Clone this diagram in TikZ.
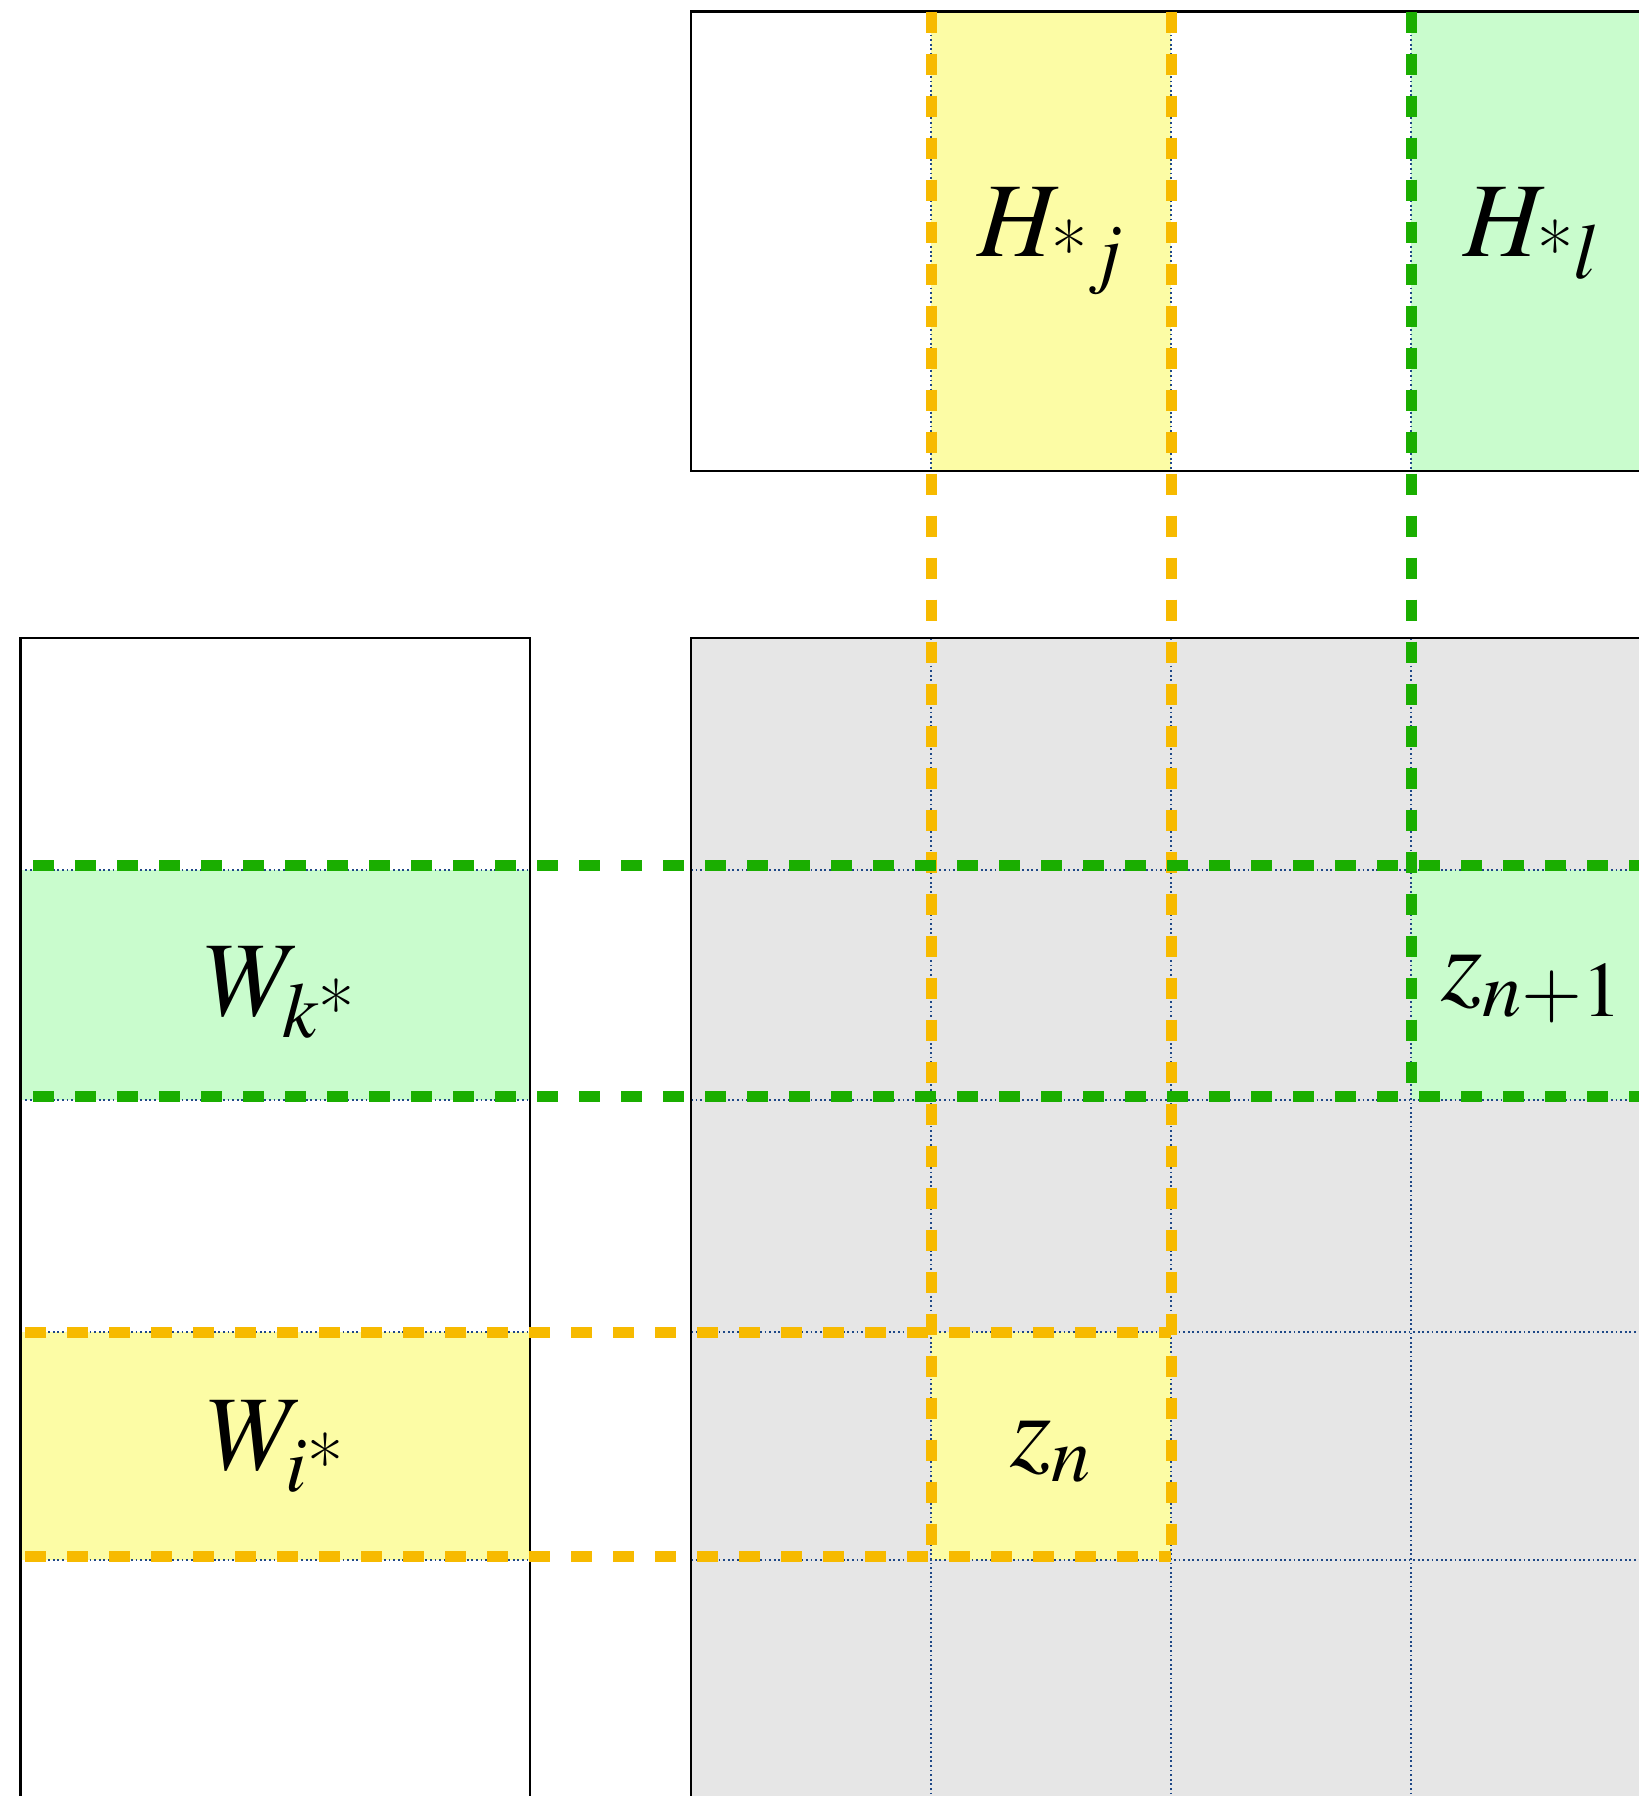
\documentclass[tikz,border=0pt]{standalone}
\usepackage{amsmath}
\usepackage{mathptmx}
\usepackage{xcolor}
\usepackage{tikz}

\definecolor{cellgrey}{RGB}{230,230,230}
\definecolor{hiyellow}{RGB}{252,252,165}
\definecolor{higreen}{RGB}{201,252,205}
\definecolor{dashorange}{RGB}{247,186,0}
\definecolor{dashgreen}{RGB}{26,174,0}
\definecolor{gridblue}{RGB}{30,72,135}
\newcommand{\tast}{\text{*}}

\begin{document}
\begin{tikzpicture}[
  x=0.5pt,y=-0.5pt,
  frame/.style={draw=black,line width=1.2pt},
  gridline/.style={draw=gridblue,line width=0.8pt,dash pattern=on 0.9pt off 1.4pt},
  ydash/.style={draw=dashorange,line width=5.5pt,dash pattern=on 10.5pt off 10.5pt},
  gdash/.style={draw=dashgreen,line width=5.5pt,dash pattern=on 10.5pt off 10.5pt},
  lbl/.style={inner sep=0pt,anchor=base,font=\fontsize{53}{60}\selectfont}
]
\clip (0,0) rectangle (1639,1796);
\fill[white] (0,0) rectangle (1639,1796);
% product matrix
\fill[cellgrey] (691,638) rectangle (1660,1820);
% selected columns of H and rows of W
\fill[hiyellow] (931,11.5) rectangle (1171,471);
\fill[higreen] (1411,11.5) rectangle (1660,471);
\fill[higreen] (20.6,870) rectangle (530,1100);
\fill[hiyellow] (20.6,1332) rectangle (530,1560);
\fill[hiyellow] (931,1332) rectangle (1171,1560);
\fill[higreen] (1411,870) rectangle (1660,1100);
% dotted grid
\foreach \x in {931,1171,1411} {
  \draw[gridline] (\x,11.5) -- (\x,471);
  \draw[gridline] (\x,638) -- (\x,1820);
}
\foreach \y in {870,1100,1332,1560} {
  \draw[gridline] (20.6,\y) -- (530,\y);
  \draw[gridline] (691,\y) -- (1660,\y);
}
% outlines
\draw[frame] (1660,11.5) -- (691,11.5) -- (691,471) -- (1660,471);
\draw[frame] (20.6,1820) -- (20.6,638) -- (530,638) -- (530,1820);
\draw[frame] (691,1820) -- (691,638) -- (1660,638);
% dashed guides
\draw[ydash] (931,11.5) -- (931,1560);
\draw[ydash] (1171,11.5) -- (1171,1560);
\draw[ydash] (25,1332) -- (1171,1332);
\draw[ydash] (25,1556) -- (1171,1556);
\draw[gdash] (1411,11.5) -- (1411,1100);
\draw[gdash] (33,865) -- (1660,865);
\draw[gdash] (33,1096) -- (1660,1096);
% labels
\node[lbl] (hj) at (1051,256) {$H_{\tast j}$};
\node[lbl] (hl) at (1532,256) {$H_{\tast l}$};
\node[lbl] (wk) at (280,1015) {$W_{k\tast}$};
\node[lbl] (wi) at (276,1469) {$W_{i\tast}$};
\node[lbl] (zn) at (1051,1466) {$z_n$};
\node[lbl] (znn) at (1532,1000) {$z_{n+1}$};
\end{tikzpicture}
\end{document}
